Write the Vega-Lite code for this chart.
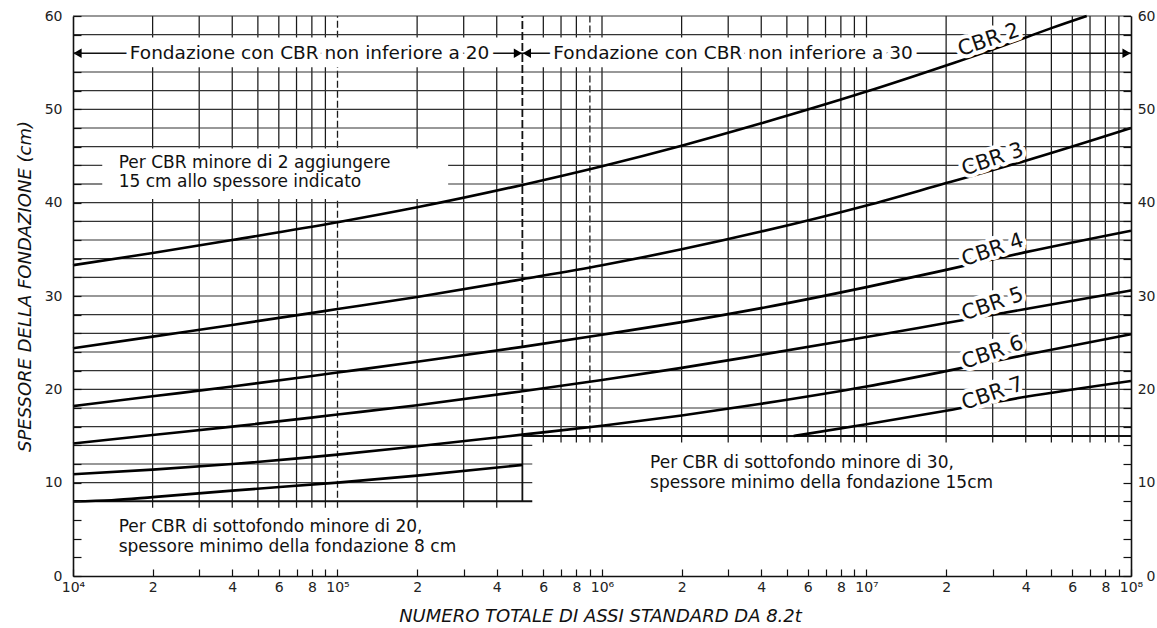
{
  "$schema": "https://vega.github.io/schema/vega-lite/v6.json",
  "width": 1058,
  "height": 560,
  "autosize": {"type": "none"},
  "padding": {"left": 73, "top": 16, "right": 26, "bottom": 52},
  "background": "white",
  "config": {"view": {"stroke": null}, "font": "DejaVu Sans"},
  "datasets": {
    "vgrid": [
      {"n": 20000, "y0": 7.3, "y1": 60, "k": "g"},
      {"n": 30000, "y0": 7.3, "y1": 60, "k": "g"},
      {"n": 40000, "y0": 7.3, "y1": 60, "k": "g"},
      {"n": 50000, "y0": 7.3, "y1": 60, "k": "g"},
      {"n": 60000, "y0": 7.3, "y1": 60, "k": "g"},
      {"n": 70000, "y0": 7.3, "y1": 60, "k": "g"},
      {"n": 80000, "y0": 7.3, "y1": 60, "k": "g"},
      {"n": 90000, "y0": 7.3, "y1": 60, "k": "g"},
      {"n": 100000, "y0": 7.3, "y1": 60, "k": "d"},
      {"n": 200000, "y0": 7.3, "y1": 60, "k": "g"},
      {"n": 300000, "y0": 7.3, "y1": 60, "k": "g"},
      {"n": 400000, "y0": 7.3, "y1": 60, "k": "g"},
      {"n": 600000, "y0": 14.3, "y1": 60, "k": "g"},
      {"n": 700000, "y0": 14.3, "y1": 60, "k": "g"},
      {"n": 800000, "y0": 14.3, "y1": 60, "k": "g"},
      {"n": 900000, "y0": 14.3, "y1": 60, "k": "d"},
      {"n": 1000000, "y0": 14.3, "y1": 60, "k": "g"},
      {"n": 2000000, "y0": 14.3, "y1": 60, "k": "g"},
      {"n": 3000000, "y0": 14.3, "y1": 60, "k": "g"},
      {"n": 4000000, "y0": 14.3, "y1": 60, "k": "g"},
      {"n": 5000000, "y0": 14.3, "y1": 60, "k": "g"},
      {"n": 6000000, "y0": 14.3, "y1": 60, "k": "g"},
      {"n": 7000000, "y0": 14.3, "y1": 60, "k": "g"},
      {"n": 8000000, "y0": 14.3, "y1": 60, "k": "g"},
      {"n": 9000000, "y0": 14.3, "y1": 60, "k": "g"},
      {"n": 10000000, "y0": 14.3, "y1": 60, "k": "g"},
      {"n": 20000000, "y0": 14.3, "y1": 60, "k": "g"},
      {"n": 30000000, "y0": 14.3, "y1": 60, "k": "g"},
      {"n": 40000000, "y0": 14.3, "y1": 60, "k": "g"},
      {"n": 50000000, "y0": 14.3, "y1": 60, "k": "g"},
      {"n": 60000000, "y0": 14.3, "y1": 60, "k": "g"},
      {"n": 70000000, "y0": 14.3, "y1": 60, "k": "g"},
      {"n": 80000000, "y0": 14.3, "y1": 60, "k": "g"},
      {"n": 90000000, "y0": 14.3, "y1": 60, "k": "g"}
    ],
    "hgrid": [
      {"v": 10, "x0": 10000, "x1": 545000, "k": "g"},
      {"v": 12, "x0": 10000, "x1": 545000, "k": "g"},
      {"v": 14, "x0": 10000, "x1": 545000, "k": "g"},
      {"v": 16, "x0": 10000, "x1": 100000000, "k": "g"},
      {"v": 18, "x0": 10000, "x1": 100000000, "k": "g"},
      {"v": 20, "x0": 10000, "x1": 100000000, "k": "g"},
      {"v": 22, "x0": 10000, "x1": 100000000, "k": "g"},
      {"v": 24, "x0": 10000, "x1": 100000000, "k": "g"},
      {"v": 26, "x0": 10000, "x1": 100000000, "k": "g"},
      {"v": 28, "x0": 10000, "x1": 100000000, "k": "g"},
      {"v": 30, "x0": 10000, "x1": 100000000, "k": "g"},
      {"v": 32, "x0": 10000, "x1": 100000000, "k": "g"},
      {"v": 34, "x0": 10000, "x1": 100000000, "k": "g"},
      {"v": 36, "x0": 10000, "x1": 100000000, "k": "g"},
      {"v": 38, "x0": 10000, "x1": 100000000, "k": "g"},
      {"v": 40, "x0": 10000, "x1": 100000000, "k": "g"},
      {"v": 42, "x0": 10000, "x1": 100000000, "k": "g"},
      {"v": 44, "x0": 10000, "x1": 100000000, "k": "g"},
      {"v": 46, "x0": 10000, "x1": 100000000, "k": "g"},
      {"v": 48, "x0": 10000, "x1": 100000000, "k": "g"},
      {"v": 50, "x0": 10000, "x1": 100000000, "k": "g"},
      {"v": 52, "x0": 10000, "x1": 100000000, "k": "g"},
      {"v": 54, "x0": 10000, "x1": 100000000, "k": "g"},
      {"v": 58, "x0": 10000, "x1": 100000000, "k": "g"},
      {"v": 60, "x0": 10000, "x1": 100000000, "k": "g"},
      {"v": 44, "x0": 10000, "x1": 12900, "k": "s"},
      {"v": 42, "x0": 10000, "x1": 12900, "k": "s"},
      {"v": 56, "x0": 10000, "x1": 100000000, "k": "a"},
      {"v": 8, "x0": 10000, "x1": 545000, "k": "b"},
      {"v": 15, "x0": 500000, "x1": 100000000, "k": "b"}
    ],
    "vbounds": [
      {"n": 500000, "y0": 8, "y1": 15, "k": "b"},
      {"n": 500000, "y0": 15, "y1": 60, "k": "d"}
    ],
    "masks": [
      {"x0": 10000, "x1": 19000000, "y0": 54.5, "y1": 57.7},
      {"x0": 10000, "x1": 262000, "y0": 40.4, "y1": 45.8}
    ],
    "arrows": [
      {"n": 10400, "v": 56, "dir": "l"},
      {"n": 481000, "v": 56, "dir": "r"},
      {"n": 520000, "v": 56, "dir": "l"},
      {"n": 96200000, "v": 56, "dir": "r"}
    ],
    "curves": [
      {"s": "2", "n": 10000, "v": 33.3},
      {"s": "2", "n": 20000, "v": 34.6},
      {"s": "2", "n": 40000, "v": 36.0},
      {"s": "2", "n": 100000, "v": 37.9},
      {"s": "2", "n": 200000, "v": 39.5},
      {"s": "2", "n": 500000, "v": 41.9},
      {"s": "2", "n": 1000000, "v": 43.9},
      {"s": "2", "n": 2000000, "v": 46.1},
      {"s": "2", "n": 4000000, "v": 48.5},
      {"s": "2", "n": 10000000, "v": 51.9},
      {"s": "2", "n": 20000000, "v": 54.7},
      {"s": "2", "n": 30000000, "v": 56.4},
      {"s": "2", "n": 40000000, "v": 57.7},
      {"s": "2", "n": 50000000, "v": 58.7},
      {"s": "2", "n": 68000000, "v": 60.0},
      {"s": "3", "n": 10000, "v": 24.4},
      {"s": "3", "n": 20000, "v": 25.65},
      {"s": "3", "n": 40000, "v": 26.9},
      {"s": "3", "n": 100000, "v": 28.6},
      {"s": "3", "n": 200000, "v": 29.9},
      {"s": "3", "n": 500000, "v": 31.8},
      {"s": "3", "n": 1000000, "v": 33.3},
      {"s": "3", "n": 2000000, "v": 35.0},
      {"s": "3", "n": 4000000, "v": 36.9},
      {"s": "3", "n": 10000000, "v": 39.7},
      {"s": "3", "n": 20000000, "v": 42.1},
      {"s": "3", "n": 40000000, "v": 44.5},
      {"s": "3", "n": 100000000, "v": 48.0},
      {"s": "4", "n": 10000, "v": 18.2},
      {"s": "4", "n": 20000, "v": 19.25},
      {"s": "4", "n": 40000, "v": 20.3},
      {"s": "4", "n": 100000, "v": 21.8},
      {"s": "4", "n": 200000, "v": 22.95},
      {"s": "4", "n": 500000, "v": 24.55},
      {"s": "4", "n": 1000000, "v": 25.85},
      {"s": "4", "n": 2000000, "v": 27.2},
      {"s": "4", "n": 4000000, "v": 28.7},
      {"s": "4", "n": 10000000, "v": 30.95},
      {"s": "4", "n": 20000000, "v": 32.8},
      {"s": "4", "n": 40000000, "v": 34.7},
      {"s": "4", "n": 100000000, "v": 37.0},
      {"s": "5", "n": 10000, "v": 14.2},
      {"s": "5", "n": 20000, "v": 15.1},
      {"s": "5", "n": 40000, "v": 16.0},
      {"s": "5", "n": 100000, "v": 17.3},
      {"s": "5", "n": 200000, "v": 18.3},
      {"s": "5", "n": 500000, "v": 19.8},
      {"s": "5", "n": 1000000, "v": 21.0},
      {"s": "5", "n": 2000000, "v": 22.3},
      {"s": "5", "n": 4000000, "v": 23.7},
      {"s": "5", "n": 10000000, "v": 25.6},
      {"s": "5", "n": 20000000, "v": 27.1},
      {"s": "5", "n": 40000000, "v": 28.6},
      {"s": "5", "n": 100000000, "v": 30.6},
      {"s": "6", "n": 10000, "v": 10.9},
      {"s": "6", "n": 20000, "v": 11.4},
      {"s": "6", "n": 40000, "v": 12.0},
      {"s": "6", "n": 100000, "v": 13.0},
      {"s": "6", "n": 200000, "v": 13.9},
      {"s": "6", "n": 500000, "v": 15.15},
      {"s": "6", "n": 1000000, "v": 16.1},
      {"s": "6", "n": 2000000, "v": 17.2},
      {"s": "6", "n": 4000000, "v": 18.45},
      {"s": "6", "n": 10000000, "v": 20.3},
      {"s": "6", "n": 20000000, "v": 21.95},
      {"s": "6", "n": 40000000, "v": 23.7},
      {"s": "6", "n": 100000000, "v": 25.9},
      {"s": "7a", "n": 10000, "v": 8.0},
      {"s": "7a", "n": 14000, "v": 8.12},
      {"s": "7a", "n": 20000, "v": 8.45},
      {"s": "7a", "n": 40000, "v": 9.15},
      {"s": "7a", "n": 100000, "v": 10.0},
      {"s": "7a", "n": 200000, "v": 10.75},
      {"s": "7a", "n": 500000, "v": 11.9},
      {"s": "7b", "n": 5300000, "v": 15.0},
      {"s": "7b", "n": 10000000, "v": 16.25},
      {"s": "7b", "n": 20000000, "v": 17.7},
      {"s": "7b", "n": 40000000, "v": 19.2},
      {"s": "7b", "n": 100000000, "v": 20.9}
    ],
    "toprow": [
      {"t": "Fondazione con CBR non inferiore a 20", "n": 78400, "v": 56},
      {"t": "Fondazione con CBR non inferiore a 30", "n": 3130000, "v": 56}
    ],
    "cbrlabels": [
      {"t": "CBR 2", "n": 29000000, "v": 57.4},
      {"t": "CBR 3", "n": 30000000, "v": 44.6},
      {"t": "CBR 4", "n": 30000000, "v": 34.9},
      {"t": "CBR 5", "n": 30000000, "v": 29.1},
      {"t": "CBR 6", "n": 30000000, "v": 23.9},
      {"t": "CBR 7", "n": 30000000, "v": 19.5}
    ],
    "notes": [
      {"t": "Per CBR minore di 2 aggiungere\n15 cm allo spessore indicato", "n": 14880, "v": 44.3},
      {"t": "Per CBR di sottofondo minore di 20,\nspessore minimo della fondazione 8 cm", "n": 14880, "v": 5.2},
      {"t": "Per CBR di sottofondo minore di 30,\nspessore minimo della fondazione 15cm", "n": 1520000, "v": 12.1}
    ]
  },
  "layer": [
    {
      "data": {"name": "vgrid"},
      "transform": [{"filter": "datum.k == 'g'"}],
      "mark": {"type": "rule", "color": "#1a1a1a", "strokeWidth": 1.25},
      "encoding": {
        "x": {
          "field": "n", "type": "quantitative",
          "scale": {"type": "log", "domain": [10000, 100000000], "nice": false},
          "axis": {
            "orient": "bottom",
            "values": [10000, 20000, 30000, 40000, 50000, 60000, 70000, 80000, 90000, 100000, 200000, 300000, 400000, 500000, 600000, 700000, 800000, 900000, 1000000, 2000000, 3000000, 4000000, 5000000, 6000000, 7000000, 8000000, 9000000, 10000000, 20000000, 30000000, 40000000, 50000000, 60000000, 70000000, 80000000, 90000000, 100000000],
            "labelExpr": "round(datum.value / pow(10, floor(log(datum.value) / LN10 + 0.000001))) == 1 ? '10' + ['⁴','⁵','⁶','⁷','⁸'][floor(log(datum.value) / LN10 + 0.000001) - 4] : (indexof([2, 4, 6, 8], round(datum.value / pow(10, floor(log(datum.value) / LN10 + 0.000001)))) >= 0 ? '' + round(datum.value / pow(10, floor(log(datum.value) / LN10 + 0.000001))) : '')",
            "grid": false,
            "tickSize": -7, "tickColor": "#111", "tickWidth": 1.2,
            "domainColor": "#111", "domainWidth": 1.6,
            "labelPadding": 11, "labelFontSize": 14, "labelColor": "#222", "labelFont": "DejaVu Sans",
            "labelFlush": false, "labelOverlap": false, "labelBound": false,
            "title": "NUMERO TOTALE DI ASSI STANDARD DA 8.2t",
            "titleFont": "DejaVu Sans", "titleFontStyle": "italic", "titleFontWeight": "normal", "titleFontSize": 18, "titleColor": "#111",
            "titleX": 527, "titleY": 40, "titleAlign": "center", "titleBaseline": "middle",
            "zindex": 2,
            "encode": {"labels": {"update": {"dy": {"signal": "round(datum.value / pow(10, floor(log(datum.value) / LN10 + 0.000001))) == 1 ? 7 : 0"}}}}
          }
        },
        "y": {
          "field": "y0", "type": "quantitative",
          "scale": {"domain": [0, 60], "nice": false, "zero": false},
          "axis": {
            "orient": "left",
            "values": [0, 2, 4, 6, 8, 10, 12, 14, 16, 18, 20, 22, 24, 26, 28, 30, 32, 34, 36, 38, 40, 42, 44, 46, 48, 50, 52, 54, 56, 58, 60],
            "labelExpr": "datum.value % 10 == 0 ? datum.label : ''",
            "grid": false,
            "tickSize": -8, "tickColor": "#111", "tickWidth": 1.2,
            "domainColor": "#111", "domainWidth": 1.6,
            "labelPadding": 19, "labelFontSize": 14, "labelColor": "#222", "labelFont": "DejaVu Sans",
            "labelOverlap": false, "labelBound": false,
            "title": "SPESSORE DELLA FONDAZIONE (cm)",
            "titleFont": "DejaVu Sans", "titleFontStyle": "italic", "titleFontWeight": "normal", "titleFontSize": 18, "titleColor": "#111",
            "titleX": -48, "titleY": 270, "titleAngle": 270, "titleAlign": "center", "titleBaseline": "middle",
            "zindex": 2
          }
        },
        "y2": {"field": "y1"}
      }
    },
    {
      "data": {"name": "vgrid"},
      "transform": [{"filter": "datum.k == 'd'"}],
      "mark": {"type": "rule", "color": "#1a1a1a", "strokeWidth": 1.3, "strokeDash": [7, 3]},
      "encoding": {
        "x": {"field": "n", "type": "quantitative", "scale": {"type": "log", "domain": [10000, 100000000], "nice": false}, "axis": null},
        "y": {"field": "y0", "type": "quantitative", "scale": {"domain": [0, 60], "nice": false, "zero": false}, "axis": null},
        "y2": {"field": "y1"}
      }
    },
    {
      "data": {"name": "hgrid"},
      "transform": [{"filter": "datum.k == 'g'"}],
      "mark": {"type": "rule", "color": "#333", "strokeWidth": 1.2},
      "encoding": {
        "x": {"field": "x0", "type": "quantitative", "scale": {"type": "log", "domain": [10000, 100000000], "nice": false}, "axis": null},
        "x2": {"field": "x1"},
        "y": {
          "field": "v", "type": "quantitative",
          "scale": {"domain": [0, 60], "nice": false, "zero": false},
          "axis": {
            "orient": "right",
            "values": [0, 2, 4, 6, 8, 10, 12, 14, 16, 18, 20, 22, 24, 26, 28, 30, 32, 34, 36, 38, 40, 42, 44, 46, 48, 50, 52, 54, 56, 58, 60],
            "labelExpr": "datum.value % 10 == 0 ? datum.label : ''",
            "grid": false,
            "tickSize": -8, "tickColor": "#111", "tickWidth": 1.2,
            "domainColor": "#111", "domainWidth": 1.6,
            "labelPadding": 32, "labelAlign": "right", "labelFontSize": 14, "labelColor": "#222", "labelFont": "DejaVu Sans",
            "labelOverlap": false, "labelBound": false,
            "title": null,
            "zindex": 2
          }
        }
      }
    },
    {
      "data": {"name": "masks"},
      "mark": {"type": "rect", "color": "white"},
      "encoding": {
        "x": {"field": "x0", "type": "quantitative", "scale": {"type": "log", "domain": [10000, 100000000], "nice": false}, "axis": null},
        "x2": {"field": "x1"},
        "y": {"field": "y0", "type": "quantitative", "scale": {"domain": [0, 60], "nice": false, "zero": false}, "axis": null},
        "y2": {"field": "y1"}
      }
    },
    {
      "data": {"name": "hgrid"},
      "transform": [{"filter": "datum.k == 's'"}],
      "mark": {"type": "rule", "color": "#333", "strokeWidth": 1.2},
      "encoding": {
        "x": {"field": "x0", "type": "quantitative", "scale": {"type": "log", "domain": [10000, 100000000], "nice": false}, "axis": null},
        "x2": {"field": "x1"},
        "y": {"field": "v", "type": "quantitative", "scale": {"domain": [0, 60], "nice": false, "zero": false}, "axis": null}
      }
    },
    {
      "data": {"name": "vbounds"},
      "transform": [{"filter": "datum.k == 'b'"}],
      "mark": {"type": "rule", "color": "#111", "strokeWidth": 1.8},
      "encoding": {
        "x": {"field": "n", "type": "quantitative", "scale": {"type": "log", "domain": [10000, 100000000], "nice": false}, "axis": null},
        "y": {"field": "y0", "type": "quantitative", "scale": {"domain": [0, 60], "nice": false, "zero": false}, "axis": null},
        "y2": {"field": "y1"}
      }
    },
    {
      "data": {"name": "vbounds"},
      "transform": [{"filter": "datum.k == 'd'"}],
      "mark": {"type": "rule", "color": "#111", "strokeWidth": 1.8, "strokeDash": [8, 3]},
      "encoding": {
        "x": {"field": "n", "type": "quantitative", "scale": {"type": "log", "domain": [10000, 100000000], "nice": false}, "axis": null},
        "y": {"field": "y0", "type": "quantitative", "scale": {"domain": [0, 60], "nice": false, "zero": false}, "axis": null},
        "y2": {"field": "y1"}
      }
    },
    {
      "data": {"name": "hgrid"},
      "transform": [{"filter": "datum.k == 'b'"}],
      "mark": {"type": "rule", "color": "#111", "strokeWidth": 2},
      "encoding": {
        "x": {"field": "x0", "type": "quantitative", "scale": {"type": "log", "domain": [10000, 100000000], "nice": false}, "axis": null},
        "x2": {"field": "x1"},
        "y": {"field": "v", "type": "quantitative", "scale": {"domain": [0, 60], "nice": false, "zero": false}, "axis": null}
      }
    },
    {
      "data": {"name": "curves"},
      "mark": {"type": "line", "color": "#000", "strokeWidth": 2.6, "interpolate": "monotone"},
      "encoding": {
        "x": {"field": "n", "type": "quantitative", "scale": {"type": "log", "domain": [10000, 100000000], "nice": false}, "axis": null},
        "y": {"field": "v", "type": "quantitative", "scale": {"domain": [0, 60], "nice": false, "zero": false}, "axis": null},
        "detail": {"field": "s", "type": "nominal"}
      }
    },
    {
      "data": {"name": "hgrid"},
      "transform": [{"filter": "datum.k == 'a'"}],
      "mark": {"type": "rule", "color": "#111", "strokeWidth": 1.5},
      "encoding": {
        "x": {"field": "x0", "type": "quantitative", "scale": {"type": "log", "domain": [10000, 100000000], "nice": false}, "axis": null},
        "x2": {"field": "x1"},
        "y": {"field": "v", "type": "quantitative", "scale": {"domain": [0, 60], "nice": false, "zero": false}, "axis": null}
      }
    },
    {
      "data": {"name": "arrows"},
      "mark": {"type": "point", "filled": true, "color": "#000", "size": 90, "opacity": 1},
      "encoding": {
        "x": {"field": "n", "type": "quantitative", "scale": {"type": "log", "domain": [10000, 100000000], "nice": false}, "axis": null},
        "y": {"field": "v", "type": "quantitative", "scale": {"domain": [0, 60], "nice": false, "zero": false}, "axis": null},
        "shape": {"field": "dir", "type": "nominal", "scale": {"domain": ["l", "r"], "range": ["triangle-left", "triangle-right"]}, "legend": null}
      }
    },
    {
      "data": {"name": "toprow"},
      "mark": {"type": "text", "font": "DejaVu Sans", "fontSize": 18.5, "align": "center", "baseline": "middle", "stroke": "white", "strokeWidth": 10, "strokeJoin": "round", "fill": "white"},
      "encoding": {
        "x": {"field": "n", "type": "quantitative", "scale": {"type": "log", "domain": [10000, 100000000], "nice": false}, "axis": null},
        "y": {"field": "v", "type": "quantitative", "scale": {"domain": [0, 60], "nice": false, "zero": false}, "axis": null},
        "text": {"field": "t"}
      }
    },
    {
      "data": {"name": "toprow"},
      "mark": {"type": "text", "font": "DejaVu Sans", "fontSize": 18.5, "align": "center", "baseline": "middle", "fill": "#111"},
      "encoding": {
        "x": {"field": "n", "type": "quantitative", "scale": {"type": "log", "domain": [10000, 100000000], "nice": false}, "axis": null},
        "y": {"field": "v", "type": "quantitative", "scale": {"domain": [0, 60], "nice": false, "zero": false}, "axis": null},
        "text": {"field": "t"}
      }
    },
    {
      "data": {"name": "cbrlabels"},
      "mark": {"type": "text", "font": "DejaVu Sans", "fontSize": 21, "align": "center", "baseline": "middle", "angle": -19, "stroke": "white", "strokeWidth": 8, "strokeJoin": "round", "fill": "white"},
      "encoding": {
        "x": {"field": "n", "type": "quantitative", "scale": {"type": "log", "domain": [10000, 100000000], "nice": false}, "axis": null},
        "y": {"field": "v", "type": "quantitative", "scale": {"domain": [0, 60], "nice": false, "zero": false}, "axis": null},
        "text": {"field": "t"}
      }
    },
    {
      "data": {"name": "cbrlabels"},
      "mark": {"type": "text", "font": "DejaVu Sans", "fontSize": 21, "align": "center", "baseline": "middle", "angle": -19, "fill": "#111"},
      "encoding": {
        "x": {"field": "n", "type": "quantitative", "scale": {"type": "log", "domain": [10000, 100000000], "nice": false}, "axis": null},
        "y": {"field": "v", "type": "quantitative", "scale": {"domain": [0, 60], "nice": false, "zero": false}, "axis": null},
        "text": {"field": "t"}
      }
    },
    {
      "data": {"name": "notes"},
      "mark": {"type": "text", "font": "DejaVu Sans", "fontSize": 17, "align": "left", "baseline": "middle", "fill": "#111", "lineBreak": "\n", "lineHeight": 19.6},
      "encoding": {
        "x": {"field": "n", "type": "quantitative", "scale": {"type": "log", "domain": [10000, 100000000], "nice": false}, "axis": null},
        "y": {"field": "v", "type": "quantitative", "scale": {"domain": [0, 60], "nice": false, "zero": false}, "axis": null},
        "text": {"field": "t"}
      }
    }
  ],
  "resolve": {"axis": {"x": "independent", "y": "independent"}}
}
